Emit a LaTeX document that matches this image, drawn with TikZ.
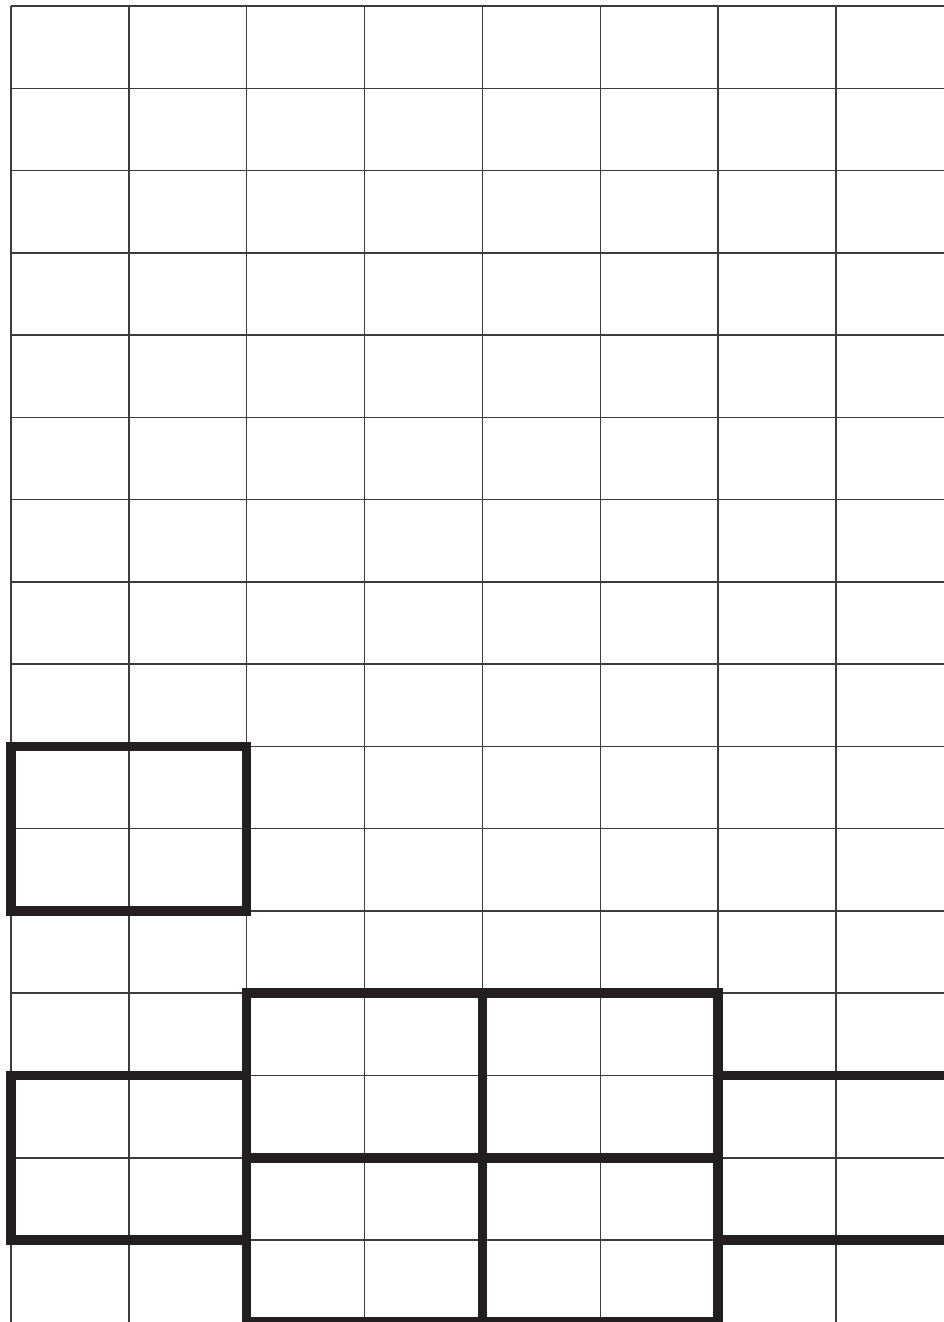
\documentclass[tikz,border=0pt]{standalone}
\usepackage{xcolor}
\usepackage{tikz}
\definecolor{GPLine}{HTML}{3C3C3C}
\definecolor{GPBold}{HTML}{231F20}

\begin{document}
\begin{tikzpicture}[x=1cm,y=1cm,
  gridline/.style={GPLine,line width=0.03cm},
  boldline/.style={GPBold,line width=0.19cm}]
\path[use as bounding box] (0,0) rectangle (18.88,26.44);
\draw[gridline] (0.22,26.32) -- (18.88,26.32);
\draw[gridline] (0.22,24.67) -- (18.88,24.67);
\draw[gridline] (0.22,23.03) -- (18.88,23.03);
\draw[gridline] (0.22,21.38) -- (18.88,21.38);
\draw[gridline] (0.22,19.74) -- (18.88,19.74);
\draw[gridline] (0.22,18.09) -- (18.88,18.09);
\draw[gridline] (0.22,16.45) -- (18.88,16.45);
\draw[gridline] (0.22,14.80) -- (18.88,14.80);
\draw[gridline] (0.22,13.16) -- (18.88,13.16);
\draw[gridline] (0.22,11.51) -- (18.88,11.51);
\draw[gridline] (0.22,9.87) -- (18.88,9.87);
\draw[gridline] (0.22,8.22) -- (18.88,8.22);
\draw[gridline] (0.22,6.58) -- (18.88,6.58);
\draw[gridline] (0.22,4.93) -- (18.88,4.93);
\draw[gridline] (0.22,3.28) -- (18.88,3.28);
\draw[gridline] (0.22,1.64) -- (18.88,1.64);
\draw[gridline] (0.22,26.32) -- (0.22,0);
\draw[gridline] (2.58,26.32) -- (2.58,0);
\draw[gridline] (4.93,26.32) -- (4.93,0);
\draw[gridline] (7.29,26.32) -- (7.29,0);
\draw[gridline] (9.65,26.32) -- (9.65,0);
\draw[gridline] (12.01,26.32) -- (12.01,0);
\draw[gridline] (14.36,26.32) -- (14.36,0);
\draw[gridline] (16.72,26.32) -- (16.72,0);
% bold blocks
\draw[boldline] (0.22,11.51) rectangle (4.93,8.22);
\draw[boldline] (0.22,4.93) rectangle (4.93,1.64);
\draw[boldline] (4.93,6.58) rectangle (9.65,3.28);
\draw[boldline] (9.65,6.58) rectangle (14.36,3.28);
\draw[boldline] (4.93,3.28) rectangle (9.65,0);
\draw[boldline] (9.65,3.28) rectangle (14.36,0);
\draw[boldline] (18.88,4.93) -- (14.36,4.93);
\draw[boldline] (18.88,1.64) -- (14.36,1.64);
\end{tikzpicture}
\end{document}
